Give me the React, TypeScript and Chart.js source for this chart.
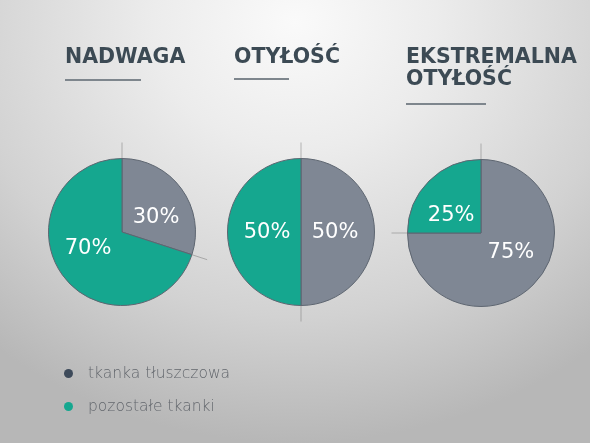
import React, { useEffect, useRef } from "react";
import { Chart, registerables } from "chart.js";

Chart.register(...registerables);

const categories = ["tkanka tłuszczowa", "pozostałe tkanki"];
const groups = ["NADWAGA", "OTYŁOŚĆ", "EKSTREMALNA\nOTYŁOŚĆ"];
const fatShare = [30, 50, 75];
const otherShare = [70, 50, 25];

const GRAY = "#7f8794";
const TEAL = "#15a78f";
const LEGEND_DARK = "#3d4a5a";

const guideLines = {
  id: "guideLines",
  afterDatasetsDraw(chart: any) {
    const ctx = chart.ctx;
    const meta = chart.getDatasetMeta(0);
    ctx.save();
    ctx.strokeStyle = "rgba(120,120,120,0.5)";
    ctx.lineWidth = 1;
    meta.data.forEach((arc: any) => {
      const a = arc.startAngle;
      const r = arc.outerRadius;
      ctx.beginPath();
      ctx.moveTo(arc.x + Math.cos(a) * r, arc.y + Math.sin(a) * r);
      ctx.lineTo(arc.x + Math.cos(a) * (r + 16), arc.y + Math.sin(a) * (r + 16));
      ctx.stroke();
    });
    const values = chart.data.datasets[0].data as number[];
    const total = values.reduce((s, v) => s + v, 0);
    ctx.fillStyle = "#ffffff";
    ctx.font = "21px 'DejaVu Sans'";
    ctx.textAlign = "center";
    ctx.textBaseline = "middle";
    meta.data.forEach((arc: any, i: number) => {
      const mid = (arc.startAngle + arc.endAngle) / 2;
      const r = arc.outerRadius * 0.5;
      let dx = Math.cos(mid) * r * 1.15;
      dx = Math.max(-34, Math.min(34, dx));
      const dy = Math.sin(mid) * r * 0.7;
      const pct = Math.round((values[i] / total) * 100);
      ctx.fillText(pct + "%", arc.x + dx, arc.y + dy + 1);
    });
    ctx.restore();
  },
};

function Pie({ idx, cx, cy }: { idx: number; cx: number; cy: number }) {
  const ref = useRef<HTMLCanvasElement>(null);
  useEffect(() => {
    const chart = new Chart(ref.current!, {
      type: "pie",
      data: {
        labels: categories,
        datasets: [
          {
            data: [fatShare[idx], otherShare[idx]],
            backgroundColor: [GRAY, TEAL],
            borderColor: "#5d6570",
            borderWidth: 1,
          },
        ],
      },
      options: {
        animation: false,
        responsive: false,
        devicePixelRatio: 1,
        layout: { padding: 21 },
        plugins: { legend: { display: false }, tooltip: { enabled: false } },
      },
      plugins: [guideLines],
    });
    return () => chart.destroy();
  }, [idx]);
  return (
    <canvas
      ref={ref}
      width={190}
      height={190}
      style={{ position: "absolute", left: cx - 95, top: cy - 95, width: 190, height: 190 }}
    />
  );
}

const titleStyle: React.CSSProperties = {
  position: "absolute",
  fontFamily: "'DejaVu Sans', sans-serif",
  fontWeight: 700,
  fontSize: 20.5,
  lineHeight: "22px",
  color: "#3c4a54",
  whiteSpace: "pre",
  margin: 0,
};

export default function App() {
  const titlePos = [
    { x: 65, y: 45, ux: 65, uy: 79, uw: 76 },
    { x: 234, y: 45, ux: 234, uy: 78, uw: 55 },
    { x: 406, y: 45, ux: 406, uy: 103, uw: 80 },
  ];
  const centers = [
    [122, 232],
    [301, 232],
    [481, 233],
  ];
  return (
    <div
      style={{
        position: "fixed",
        left: 0,
        top: 0,
        width: 590,
        height: 443,
        overflow: "hidden",
        background:
          "radial-gradient(ellipse 80% 95% at 50% 5%, #fafafa 0%, #ececec 30%, #d2d2d2 70%, #b7b7b7 100%)",
      }}
    >
      {groups.map((g, i) => (
        <React.Fragment key={g}>
          <div style={{ ...titleStyle, left: titlePos[i].x, top: titlePos[i].y }}>{g}</div>
          <div
            style={{
              position: "absolute",
              left: titlePos[i].ux,
              top: titlePos[i].uy,
              width: titlePos[i].uw,
              height: 2,
              background: "#7e868d",
            }}
          />
        </React.Fragment>
      ))}
      {centers.map((c, i) => (
        <Pie key={i} idx={i} cx={c[0]} cy={c[1]} />
      ))}
      {categories.map((c, i) => (
        <div
          key={c}
          style={{
            position: "absolute",
            left: 64,
            top: 364 + i * 33,
            display: "flex",
            alignItems: "center",
            fontFamily: "'DejaVu Sans', sans-serif",
            fontWeight: 300,
            fontSize: 15.5,
            color: "#63676d",
            height: 18,
          }}
        >
          <span
            style={{
              width: 9,
              height: 9,
              borderRadius: "50%",
              background: i === 0 ? LEGEND_DARK : TEAL,
              display: "inline-block",
              marginRight: 15,
            }}
          />
          {c}
        </div>
      ))}
    </div>
  );
}
